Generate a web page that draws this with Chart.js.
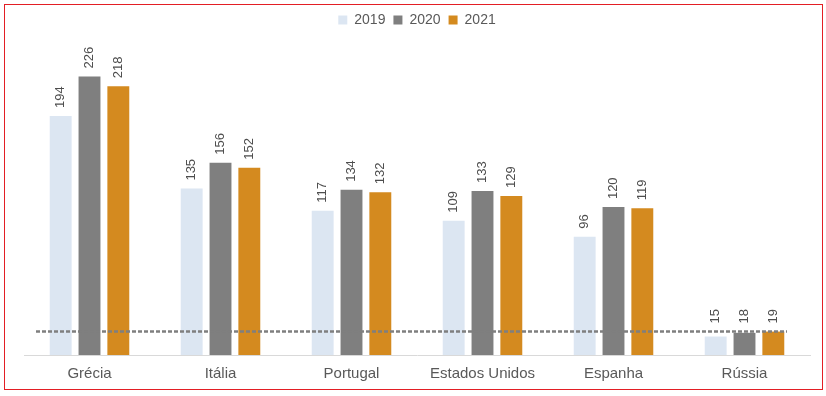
<!DOCTYPE html>
<html>
<head>
<meta charset="utf-8">
<script src="https://cdn.jsdelivr.net/npm/chart.js@4/dist/chart.umd.min.js"></script>
<style>
  body { margin: 0; background: #fff; }
  #wrap { position: relative; width: 826px; height: 396px; }
  #frame { position: absolute; left: 4px; top: 4px; width: 817px; height: 384px; border: 1.5px solid #e31e24; pointer-events: none; }
</style>
</head>
<body>
<div id="wrap">
  <canvas id="chart" width="826" height="396"></canvas>
  <div id="frame"></div>
</div>
<script>
const categories = ['Grécia', 'Itália', 'Portugal', 'Estados Unidos', 'Espanha', 'Rússia'];
const years = ['2019', '2020', '2021'];
const values2019 = [194, 135, 117, 109, 96, 15];
const values2020 = [226, 156, 134, 133, 120, 18];
const values2021 = [218, 152, 132, 129, 119, 19];
const referenceLine = 19;

const colors = ['#dce6f2', '#7f7f7f', '#d48a1f'];

// dashed horizontal reference line
const dashedLine = {
    id: 'dashedLine',
    afterDatasetsDraw(chart) {
        const ctx = chart.ctx;
        const area = chart.chartArea;
        const y = chart.scales.y.getPixelForValue(referenceLine);
        ctx.save();
        ctx.strokeStyle = '#7f7f7f';
        ctx.lineWidth = 2.5;
        ctx.setLineDash([4, 2]);
        ctx.beginPath();
        ctx.moveTo(area.left + 12, y);
        ctx.lineTo(area.right - 23, y);
        ctx.stroke();
        ctx.restore();
    }
};

// rotated value labels above each bar (kept clear of the dashed line)
const barLabels = {
    id: 'barLabels',
    afterDatasetsDraw(chart) {
        const ctx = chart.ctx;
        const lineY = chart.scales.y.getPixelForValue(referenceLine);
        ctx.save();
        ctx.font = '13px "Liberation Sans", Arial, sans-serif';
        ctx.fillStyle = '#4d4d4d';
        ctx.textAlign = 'left';
        ctx.textBaseline = 'middle';
        chart.data.datasets.forEach((ds, i) => {
            chart.getDatasetMeta(i).data.forEach((bar, j) => {
                const top = Math.min(bar.y, lineY);
                ctx.save();
                ctx.translate(bar.x, top - 8);
                ctx.rotate(-Math.PI / 2);
                ctx.fillText(String(ds.data[j]), 0, 0);
                ctx.restore();
            });
        });
        ctx.restore();
    }
};

new Chart(document.getElementById('chart'), {
    type: 'bar',
    data: {
        labels: categories,
        datasets: [
            { label: years[0], data: values2019, backgroundColor: colors[0] },
            { label: years[1], data: values2020, backgroundColor: colors[1] },
            { label: years[2], data: values2021, backgroundColor: colors[2] }
        ]
    },
    options: {
        responsive: false,
        animation: false,
        categoryPercentage: 0.66,
        barPercentage: 0.76,
        layout: { padding: { left: 24, right: 16, top: 5, bottom: 11 } },
        scales: {
            x: {
                grid: { display: false },
                border: { color: '#d9d9d9' },
                ticks: { color: '#595959', font: { size: 15, family: '"Liberation Sans", Arial, sans-serif' }, padding: 2 }
            },
            y: { display: false, min: 0, max: 258 }
        },
        plugins: {
            legend: {
                position: 'top',
                labels: {
                    boxWidth: 9,
                    boxHeight: 9,
                    padding: 8,
                    color: '#595959',
                    font: { size: 14, family: '"Liberation Sans", Arial, sans-serif' }
                }
            },
            tooltip: { enabled: false }
        }
    },
    plugins: [dashedLine, barLabels]
});
</script>
</body>
</html>
